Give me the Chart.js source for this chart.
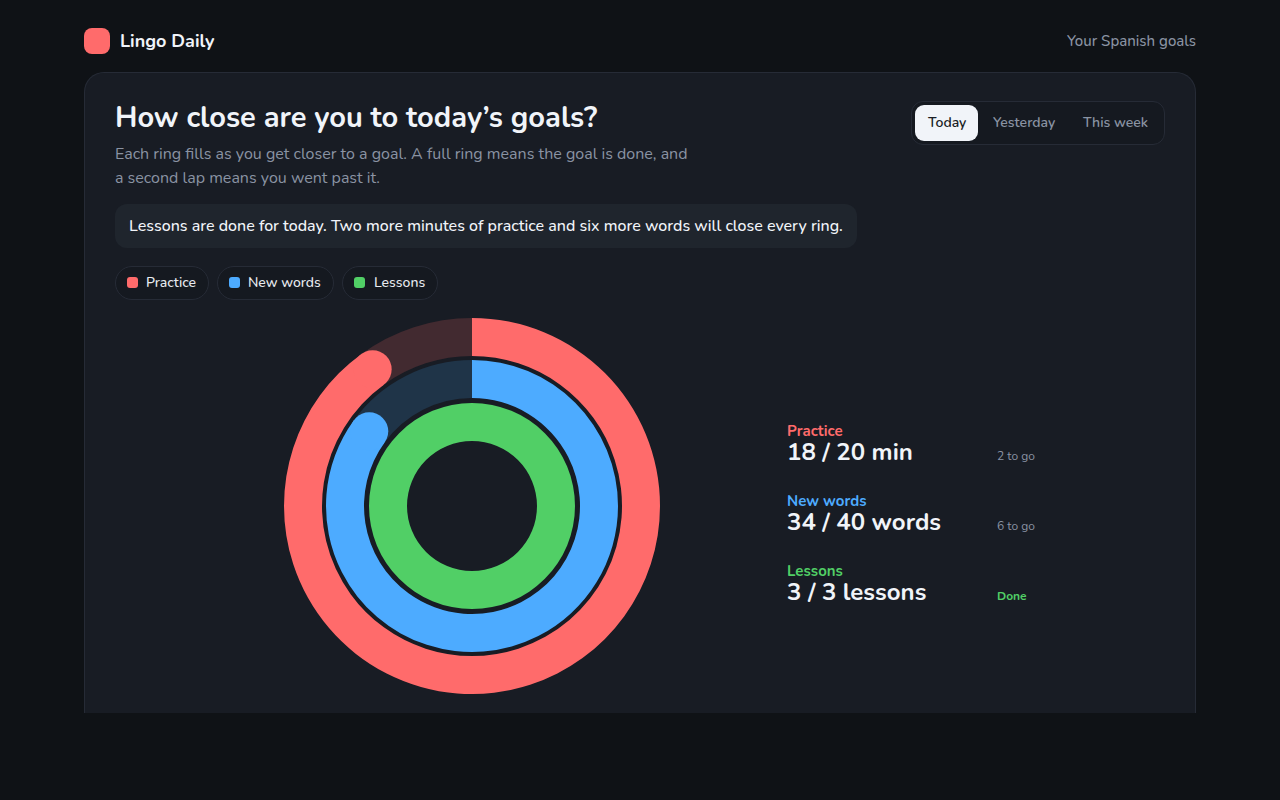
<!DOCTYPE html>
<html><head><meta charset="utf-8">
<script src="https://cdn.jsdelivr.net/npm/chart.js@4"></script>
<style>
*{box-sizing:border-box;margin:0;padding:0}
html,body{width:1280px;height:800px;overflow:hidden;background:#0f1216;font-family:Nunito,"Nunito Sans","Noto Sans",sans-serif;color:#f1f4f9}
.abs,.abs *{white-space:nowrap}
.abs{position:absolute}
#logo{left:84px;top:28px;width:26px;height:26px;border-radius:8px;background:#ff6b6b}
#brand{left:120px;top:28px;line-height:26px;font-size:18px;font-weight:700}
#tag{right:84px;top:28px;line-height:26px;font-size:15px;font-weight:500;color:#8a93a3}
#card{left:84px;top:72px;width:1112px;height:641px;background:#181c24;border:1px solid #262b36;border-bottom:none;border-radius:20px 20px 0 0;overflow:hidden}
#title{left:115px;top:99px;line-height:38px;font-size:29px;font-weight:700}
#sub{left:115px;top:142px;width:600px;line-height:24px;font-size:16px;color:#8a93a3}
#call{left:115px;top:204px;width:742px;height:44px;line-height:44px;padding-left:14px;background:#1f252d;border-radius:12px;font-size:16px;font-weight:500}
.pill{top:266px;height:34px;line-height:32px;border:1px solid #262b36;border-radius:17px;font-size:14px;font-weight:500;background:#151920;color:#e8ebf0}
.pill i{position:absolute;left:11px;top:10px;width:11px;height:11px;border-radius:3px}
.pill span{position:absolute}
#seg{left:911px;top:101px;width:254px;height:44px;border:1px solid #262b36;border-radius:12px;background:#151920}
#act{left:915px;top:105px;width:63px;height:36px;border-radius:9px;background:#f1f4f9}
.t{top:105px;line-height:36px;font-size:14px;font-weight:600;color:#8a93a3}
.lab{left:787px;font-size:15px;line-height:18px;font-weight:700}
.val{left:787px;font-size:24px;line-height:26px;font-weight:700;color:#f1f4f9}
.note{left:997px;font-size:12px;line-height:16px;color:#8a93a3}
#wrap{left:284px;top:318px;width:376px;height:376px}
</style></head><body>
<div class="abs" id="card"></div>
<div class="abs" id="logo"></div><div class="abs" id="brand">Lingo Daily</div>
<div class="abs" id="tag">Your Spanish goals</div>
<div class="abs" id="title">How close are you to today’s goals?</div>
<div class="abs" id="sub">Each ring fills as you get closer to a goal. A full ring means the goal is done, and<br>a second lap means you went past it.</div>
<div class="abs" id="call">Lessons are done for today. Two more minutes of practice and six more words will close every ring.</div>
<div class="abs" id="seg"></div><div class="abs" id="act"></div>
<div class="abs t" style="left:928px;color:#1a1e26">Today</div>
<div class="abs t" style="left:993px">Yesterday</div>
<div class="abs t" style="left:1083px">This week</div>
<div class="abs pill" style="left:115px;width:94px"><i style="background:#ff6b6b"></i><span style="left:30px">Practice</span></div>
<div class="abs pill" style="left:217px;width:117px"><i style="background:#4dabff"></i><span style="left:30px">New words</span></div>
<div class="abs pill" style="left:342px;width:96px"><i style="background:#51cf66"></i><span style="left:31px">Lessons</span></div>
<div class="abs lab" style="top:422px;color:#ff6b6b">Practice</div><div class="abs val" style="top:439px">18 / 20 min</div><div class="abs note" style="top:448px">2 to go</div>
<div class="abs lab" style="top:492px;color:#4dabff">New words</div><div class="abs val" style="top:509px">34 / 40 words</div><div class="abs note" style="top:518px">6 to go</div>
<div class="abs lab" style="top:562px;color:#51cf66">Lessons</div><div class="abs val" style="top:579px">3 / 3 lessons</div><div class="abs note" style="top:588px;color:#51cf66;font-weight:700">Done</div>
<div class="abs" id="wrap"><canvas id="c"></canvas></div>
<script>
const categories = ["Done", "To go"];
const practice = [18, 2];
const newWords = [34, 6];
const lessons = [3, 0];
const gap = [1];
const ringColors = ["#ff6b6b", "#4dabff", "#51cf66"];
const trackColors = ["#422a30", "#1f3448", "#213b2e"];
const ringWeight = 38, gapWeights = [4, 5];

const endCaps = {
  id: "endCaps",
  afterDatasetsDraw(chart) {
    const ctx = chart.ctx;
    [0, 2, 4].forEach((ds, i) => {
      const rows = chart.data.datasets[ds].data;
      if (rows[1] === 0) return;
      const arc = chart.getDatasetMeta(ds).data[0];
      const mid = (arc.outerRadius + arc.innerRadius) / 2;
      const r = (arc.outerRadius - arc.innerRadius) / 2;
      ctx.save();
      ctx.fillStyle = ringColors[i];
      ctx.beginPath();
      ctx.arc(arc.x + Math.cos(arc.endAngle) * mid, arc.y + Math.sin(arc.endAngle) * mid, r, 0, Math.PI * 2);
      ctx.fill();
      ctx.restore();
    });
  }
};

new Chart(document.getElementById("c"), {
  type: "doughnut",
  data: {
    labels: categories,
    datasets: [
      {label: "Practice", data: practice, backgroundColor: [ringColors[0], trackColors[0]], weight: ringWeight},
      {label: "gap", data: gap, backgroundColor: "rgba(0,0,0,0)", weight: gapWeights[0]},
      {label: "New words", data: newWords, backgroundColor: [ringColors[1], trackColors[1]], weight: ringWeight},
      {label: "gap", data: gap, backgroundColor: "rgba(0,0,0,0)", weight: gapWeights[1]},
      {label: "Lessons", data: lessons, backgroundColor: [ringColors[2], trackColors[2]], weight: ringWeight}
    ]
  },
  options: {
    responsive: true, maintainAspectRatio: false, animation: false,
    cutout: 65, borderWidth: 0,
    elements: {arc: {borderWidth: 0}},
    layout: {padding: 0},
    plugins: {legend: {display: false}, tooltip: {enabled: false}}
  },
  plugins: [endCaps]
});
</script>
</body></html>
